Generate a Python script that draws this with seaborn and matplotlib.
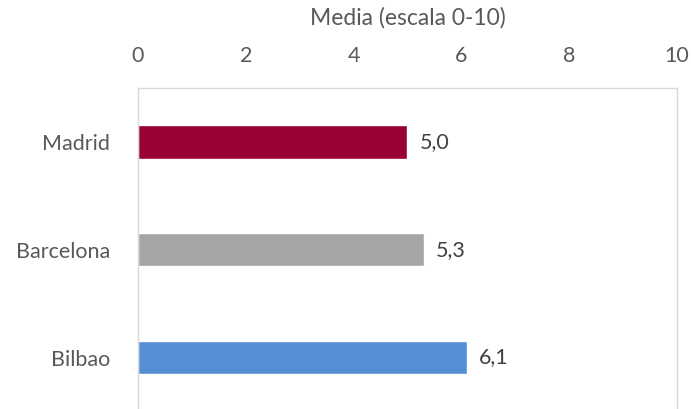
import matplotlib
matplotlib.use("Agg")
import matplotlib.pyplot as plt
import seaborn as sns
import pandas as pd

ciudades = ["Madrid", "Barcelona", "Bilbao"]
medias = [5.0, 5.3, 6.1]
colores = ["#990033", "#A5A5A5", "#558ED5"]
ticks_x = [0, 2, 4, 6, 8, 10]

sns.set_theme(style="white")
plt.rcParams["font.family"] = ["Lato", "DejaVu Sans"]

df = pd.DataFrame({"ciudad": ciudades, "media": medias})

fig = plt.figure(figsize=(6.91, 4.09), dpi=100)
ax = fig.add_axes([0.1997, -0.006, 0.780, 0.791])

sns.barplot(data=df, x="media", y="ciudad", hue="ciudad", palette=colores,
            width=0.31, legend=False, ax=ax, saturation=1)

for i, v in enumerate(medias):
    ax.text(v + 0.23, i, f"{v:.1f}".replace(".", ","), va="center", ha="left",
            fontsize=15.5, color="#404040")

ax.set_xlim(0, 10)
ax.set_ylim(2.5, -0.5)
ax.set_xticks(ticks_x)
ax.xaxis.tick_top()
ax.xaxis.set_label_position("top")
ax.set_xlabel("Media (escala 0-10)", fontsize=16.5, color="#595959", labelpad=15)
ax.set_ylabel("")
ax.tick_params(axis="x", length=0, labelsize=15.5, labelcolor="#595959", pad=16)
ax.tick_params(axis="y", length=0, labelsize=15.5, labelcolor="#595959", pad=20)

for side in ["top", "right", "left"]:
    ax.spines[side].set_visible(True)
    ax.spines[side].set_color("#D9D9D9")
    ax.spines[side].set_linewidth(1.0)
ax.spines["bottom"].set_visible(False)

fig.savefig("out.png", dpi=100)
